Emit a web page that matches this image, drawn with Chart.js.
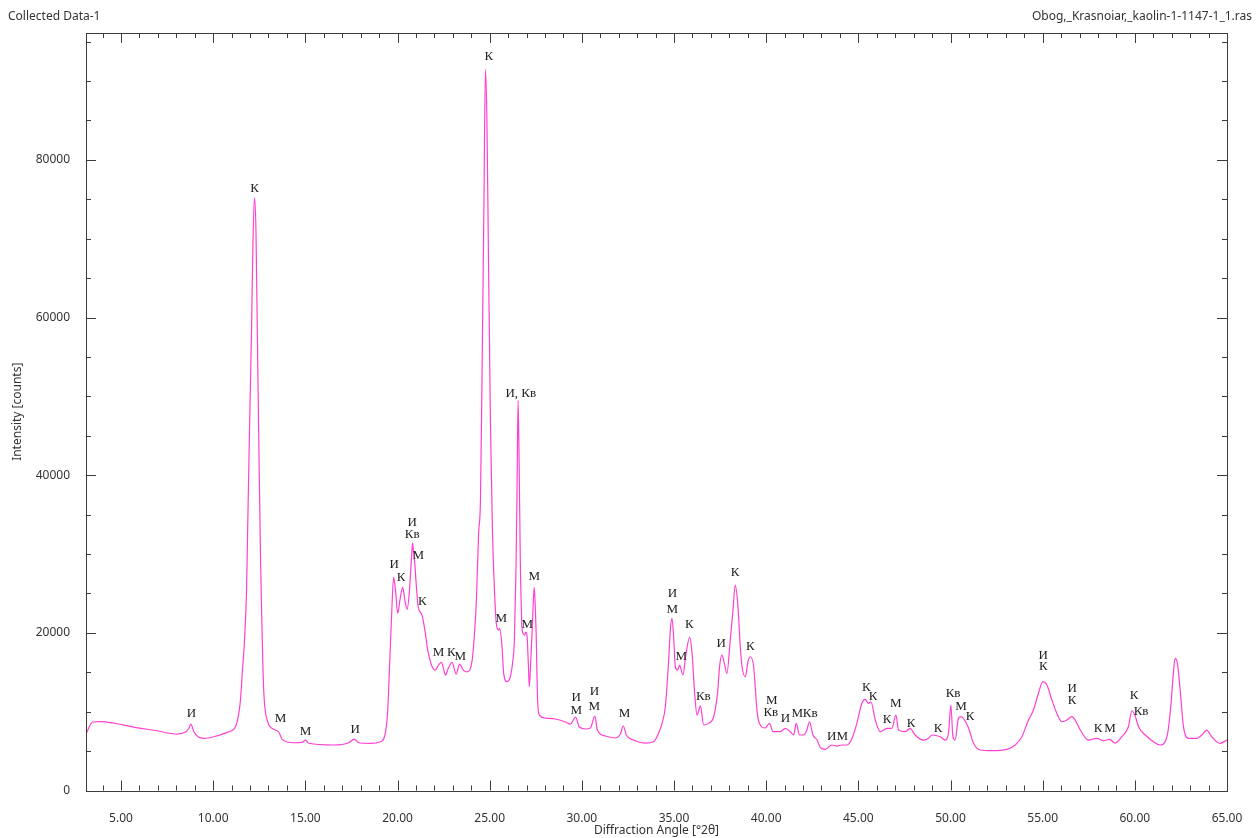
<!DOCTYPE html>
<html>
<head>
<meta charset="utf-8">
<title>Collected Data-1</title>
<script src="https://cdn.jsdelivr.net/npm/chart.js@4.4.0/dist/chart.umd.min.js"></script>
<style>
    html, body { margin: 0; padding: 0; background: #fff; }
    #xrdChart { display: block; }
</style>
</head>
<body>
<canvas id="xrdChart" width="1259" height="838"></canvas>
<script>
// diffraction angle, °2θ
const twoTheta = [
    3.13, 3.45, 3.89, 4.70, 5.68, 6.87, 8.05, 8.50, 8.66, 8.79, 8.95, 9.20, 9.49, 10.03, 10.76, 11.21,
    11.39, 11.48, 11.59, 11.70, 11.81, 11.86, 11.97, 12.08, 12.16, 12.24, 12.32, 12.40, 12.48, 12.57,
    12.65, 12.74, 12.93, 13.29, 13.56, 13.74, 14.37, 14.83, 15.01, 15.18, 16.54, 17.35, 17.66, 17.90,
    18.53, 19.07, 19.34, 19.47, 19.56, 19.67, 19.79, 19.89, 20.01, 20.13, 20.28, 20.40, 20.52, 20.65,
    20.75, 20.82, 20.88, 20.93, 21.01, 21.12, 21.33, 21.51, 21.64, 21.88, 22.06, 22.22, 22.38, 22.49,
    22.60, 22.76, 22.96, 23.18, 23.37, 23.57, 23.77, 24.05, 24.17, 24.28, 24.40, 24.50, 24.60, 24.69,
    24.77, 24.85, 24.93, 25.04, 25.15, 25.26, 25.36, 25.49, 25.54, 25.67, 25.76, 25.94, 26.12, 26.26,
    26.34, 26.43, 26.49, 26.54, 26.59, 26.66, 26.72, 26.76, 26.90, 26.96, 27.03, 27.10, 27.15, 27.23,
    27.30, 27.37, 27.42, 27.48, 27.52, 27.60, 27.70, 28.02, 28.56, 29.11, 29.38, 29.66, 29.86, 30.19,
    30.46, 30.71, 30.84, 31.28, 31.82, 32.09, 32.25, 32.41, 32.79, 33.44, 33.89, 34.16, 34.35, 34.53,
    34.71, 34.80, 34.89, 34.99, 35.07, 35.20, 35.30, 35.49, 35.64, 35.85, 35.98, 36.12, 36.25, 36.35,
    36.43, 36.61, 36.88, 37.15, 37.36, 37.48, 37.60, 37.73, 37.87, 38.05, 38.20, 38.32, 38.47, 38.59,
    38.69, 38.87, 39.01, 39.14, 39.32, 39.50, 39.63, 39.95, 40.18, 40.37, 40.76, 41.04, 41.31, 41.49,
    41.63, 41.81, 42.03, 42.21, 42.35, 42.54, 42.76, 42.93, 43.21, 43.57, 43.84, 44.11, 44.39, 44.66,
    44.92, 45.19, 45.37, 45.55, 45.68, 45.92, 46.19, 46.55, 46.82, 47.04, 47.18, 47.54, 47.81, 48.08,
    48.54, 48.81, 48.99, 49.44, 49.71, 49.89, 50.02, 50.13, 50.25, 50.43, 50.56, 50.70, 50.98, 51.25,
    51.61, 52.25, 53.06, 53.51, 53.87, 54.23, 54.50, 54.77, 55.01, 55.23, 55.50, 55.77, 56.04, 56.31,
    56.58, 56.76, 57.04, 57.48, 57.94, 58.30, 58.62, 58.93, 59.29, 59.65, 59.84, 60.02, 60.20, 60.57,
    61.01, 61.37, 61.74, 61.95, 62.09, 62.18, 62.31, 62.46, 62.64, 62.91, 63.36, 63.63, 63.90, 64.17,
    64.62, 65.00
];

// intensity, counts
const intensity = [
    7300, 8690, 8750, 8500, 8050, 7610, 7160, 7420, 7800, 8430, 7460, 6780, 6620, 6820, 7380, 8090,
    9790, 11480, 15280, 19080, 25420, 31760, 45710, 58390, 69800, 75200, 71070, 57120, 43170, 29230,
    20350, 12740, 8940, 7760, 7420, 6490, 6060, 6110, 6400, 5990, 5770, 6060, 6530, 6060,
    5990, 6190, 7290, 10210, 15280, 21620, 27030, 25420, 22470, 24160, 25770, 24160, 22980, 25420,
    29230, 31420, 29860, 29010, 26310, 23310, 22250, 19930, 17820, 15700, 15280, 15910, 16260, 15530,
    14640, 15530, 16260, 14770, 16040, 15280, 15060, 16550, 19720, 24160, 32650, 36840, 55850, 74870,
    91500, 85020, 68540, 46980, 33030, 25420, 21200, 20350, 20570, 18230, 14860, 13800, 14430, 16550,
    19080, 28380, 39370, 49500, 43180, 29230, 22890, 20350, 19720, 20100, 19500, 15910, 13160, 16550,
    19930, 24160, 25770, 22890, 19970, 11480, 9570, 9190, 9070, 8690, 8430, 9320, 8050, 7800,
    7930, 9450, 7670, 6910, 6660, 7170, 8180, 7040, 6400, 6020, 6190, 7250, 8520, 10630,
    16550, 20350, 21840, 19080, 15700, 15280, 15910, 14650, 17180, 19430, 17400, 12330, 9570, 10210,
    10750, 8310, 8520, 9360, 12330, 15910, 17180, 16130, 14860, 19080, 22890, 26060, 23310, 18450,
    15700, 14430, 16330, 16970, 15700, 10210, 8520, 7930, 8520, 7460, 7460, 7890, 7460, 7040,
    8520, 7040, 7040, 7670, 8720, 7040, 6400, 5480, 5220, 5770, 5640, 5770, 5770, 6620,
    8520, 11060, 11560, 11060, 11260, 8940, 7460, 7890, 7890, 9570, 7670, 7460, 7890, 7040,
    6400, 6620, 7040, 6820, 6400, 7250, 10840, 6820, 6400, 9150, 9360, 9150, 7930, 5990,
    5140, 5050, 5220, 5770, 6820, 8940, 10210, 12330, 13800, 13380, 11480, 9790, 8720, 8940,
    9360, 8940, 7670, 6400, 6620, 6310, 6490, 6020, 6820, 8090, 10120, 9450, 8090, 7040,
    6190, 5770, 6820, 10630, 14860, 16760, 16130, 12740, 8090, 6620, 6620, 7040, 7670, 6820,
    5990, 6400
];

// phase marks over the peaks: И, К, М, Кв
const peakLabelText = [
    'И', 'К', 'М', 'М', 'И', 'И', 'К', 'И', 'Кв', 'М', 'К', 'М', 'К', 'М', 'К', 'М', 'И, Кв', 'М', 'М',
    'И', 'М', 'И', 'М', 'М', 'И', 'М', 'М', 'К', 'Кв', 'И', 'К', 'К', 'М', 'Кв', 'И', 'М', 'Кв',
    'И', 'М', 'К', 'К', 'К', 'М', 'К', 'К', 'Кв', 'М', 'К', 'И', 'К', 'И', 'К', 'К', 'М', 'К', 'Кв'
];
const peakLabelX = [
    8.82, 12.24, 13.65, 15.01, 17.71, 19.82, 20.20, 20.80, 20.80, 21.13, 21.35, 22.22, 22.92, 23.41, 24.95, 25.63, 26.69, 27.04, 27.42,
    29.70, 29.70, 30.68, 30.68, 32.31, 34.91, 34.91, 35.40, 35.83, 36.59, 37.56, 38.32, 39.14, 40.30, 40.25, 41.04, 41.69, 42.39,
    43.56, 44.13, 45.43, 45.80, 46.56, 47.03, 47.86, 49.33, 50.14, 50.57, 51.06, 55.03, 55.03, 56.60, 56.60, 58.01, 58.66, 59.96, 60.34
];
const peakLabelY = [
    9700, 76380, 9070, 7420, 7670, 28720, 27070, 34050, 32520, 29860, 24030, 17560, 17560, 16930, 93130, 21750, 50400, 20990, 27200,
    11730, 10080, 12490, 10710, 9700, 25040, 23010, 17050, 21110, 11860, 18700, 27710, 18320, 11350, 9830, 9070, 9700, 9700,
    6780, 6780, 13120, 11860, 8940, 10970, 8430, 7800, 12240, 10590, 9320, 17180, 15660, 12870, 11350, 7800, 7800, 11990, 9950
];

const xTickValues = [5, 10, 15, 20, 25, 30, 35, 40, 45, 50, 55, 60, 65];
const yTickValues = [0, 20000, 40000, 60000, 80000];
const xMinorStep = 1;
const yMinorStep = 5000;

document.addEventListener('DOMContentLoaded', function () {
    const canvas = document.getElementById('xrdChart');
    const ctx = canvas.getContext('2d');
    const axisColor = '#3c3c3c';
    const textColor = '#333333';
    const uiFont = '"Noto Sans", "Open Sans", sans-serif';

    // frame with inward ticks, header texts, axis titles and peak marks
    const decorations = {
        id: 'decorations',
        afterDatasetsDraw(chart) {
            const c = chart.ctx;
            const area = chart.chartArea;
            const xs = chart.scales.x;
            const ys = chart.scales.y;

            c.save();
            c.strokeStyle = axisColor;
            c.lineWidth = 1;
            c.strokeRect(Math.round(area.left) + 0.5, Math.round(area.top) + 0.5,
                Math.round(area.right - area.left), Math.round(area.bottom - area.top));

            c.beginPath();
            for (let v = Math.ceil(xs.min); v <= xs.max + 1e-9; v += xMinorStep) {
                const px = Math.round(xs.getPixelForValue(v)) + 0.5;
                const len = v % 5 === 0 ? 10 : 5;
                c.moveTo(px, area.bottom); c.lineTo(px, area.bottom - len);
                c.moveTo(px, area.top); c.lineTo(px, area.top + len);
            }
            for (let v = 0; v <= ys.max; v += yMinorStep) {
                const py = Math.round(ys.getPixelForValue(v)) + 0.5;
                const len = v % 20000 === 0 ? 10 : 5;
                c.moveTo(area.left, py); c.lineTo(area.left + len, py);
                c.moveTo(area.right, py); c.lineTo(area.right - len, py);
            }
            c.stroke();

            c.fillStyle = textColor;
            c.font = '12px ' + uiFont;
            c.textBaseline = 'middle';
            c.textAlign = 'left';
            c.fillText('Collected Data-1', 8, 17);
            c.textAlign = 'right';
            c.fillText('Obog,_Krasnoiar,_kaolin-1-1147-1_1.ras', 1252, 17);

            c.textAlign = 'center';
            c.fillText('Diffraction Angle [°2θ]', (area.left + area.right) / 2, 831);
            c.save();
            c.translate(18, (area.top + area.bottom) / 2);
            c.rotate(-Math.PI / 2);
            c.fillText('Intensity [counts]', 0, 0);
            c.restore();

            c.fillStyle = '#222222';
            c.font = '13px "Liberation Serif", "DejaVu Serif", serif';
            peakLabelText.forEach(function (t, i) {
                c.fillText(t, xs.getPixelForValue(peakLabelX[i]), ys.getPixelForValue(peakLabelY[i]));
            });
            c.restore();
        }
    };

    new Chart(ctx, {
        type: 'line',
        data: {
            datasets: [{
                label: 'Collected Data-1',
                data: twoTheta.map(function (x, i) { return { x: x, y: intensity[i] }; }),
                borderColor: '#ff40d2',
                borderWidth: 1.2,
                pointRadius: 0,
                cubicInterpolationMode: 'monotone',
                fill: false
            }]
        },
        options: {
            responsive: false,
            animation: false,
            layout: { padding: { left: 0, top: 33, right: 32, bottom: 0 } },
            plugins: {
                legend: { display: false },
                tooltip: { enabled: false }
            },
            scales: {
                x: {
                    type: 'linear',
                    min: 3.1,
                    max: 65,
                    grid: { display: false },
                    border: { display: false },
                    afterBuildTicks: function (scale) {
                        scale.ticks = xTickValues.map(function (v) { return { value: v }; });
                    },
                    afterFit: function (scale) { scale.height = 47.5; },
                    ticks: {
                        padding: 13,
                        maxRotation: 0,
                        color: textColor,
                        font: { size: 12, family: uiFont },
                        callback: function (v) { return Number(v).toFixed(2); }
                    }
                },
                y: {
                    min: 0,
                    max: 96100,
                    grid: { display: false },
                    border: { display: false },
                    afterBuildTicks: function (scale) {
                        scale.ticks = yTickValues.map(function (v) { return { value: v }; });
                    },
                    afterFit: function (scale) { scale.width = 86; },
                    ticks: {
                        padding: 8,
                        color: textColor,
                        font: { size: 12, family: uiFont },
                        callback: function (v) { return String(v); }
                    }
                }
            }
        },
        plugins: [decorations]
    });
});
</script>
</body>
</html>
